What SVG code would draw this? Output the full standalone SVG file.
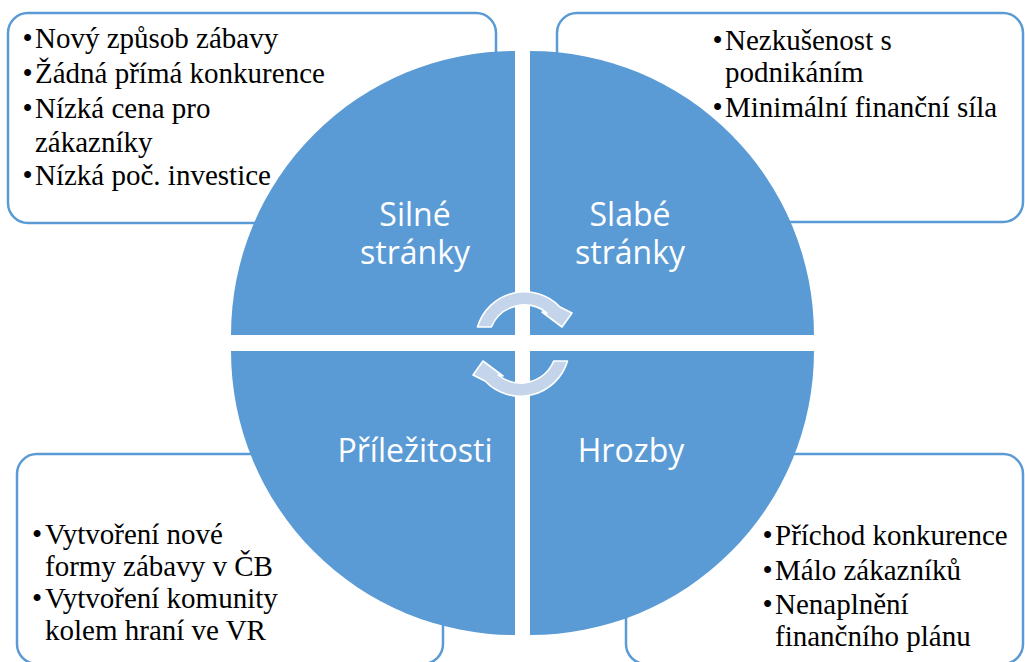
<svg xmlns="http://www.w3.org/2000/svg" xmlns:xlink="http://www.w3.org/1999/xlink" width="1025" height="662" viewBox="0 0 1025 662">
  <style>
    .box { fill: #ffffff; stroke: #5b9bd5; stroke-width: 2.5; }
    .quad { fill: #5b9bd5; }
    .item { font-family: "Liberation Serif", "Times New Roman", serif; font-size: 29px; fill: #000000; }
    .label { font-family: "Open Sans", "Noto Sans", sans-serif; font-size: 32px; fill: #ffffff; text-anchor: middle; }
    .cycle { fill: #c3d4eb; stroke: #ffffff; stroke-width: 1.6; stroke-linejoin: round; }
  </style>
  <defs>
    <!-- curved arrow: outer arc r=49, inner arc r=36, head at the clockwise end -->
    <path id="cycle-arrow" d="M 477.5 327 A 49 49 0 0 1 560 307 L 572 313 L 562 327 L 542 312 L 547 313 A 36 36 0 0 0 491.3 327 Z"/>
  </defs>
  <rect width="1025" height="662" fill="#ffffff"/>

  <!-- text panels behind the circle -->
  <g id="panel-strengths">
    <rect class="box" x="8" y="13" width="488" height="210" rx="20"/>
    <text class="item" x="22.5" y="48">•</text><text class="item" x="35" y="48">Nový způsob zábavy</text>
    <text class="item" x="22.5" y="83">•</text><text class="item" x="35" y="83">Žádná přímá konkurence</text>
    <text class="item" x="22.5" y="118">•</text><text class="item" x="35" y="118">Nízká cena pro</text>
    <text class="item" x="35" y="152">zákazníky</text>
    <text class="item" x="22.5" y="185">•</text><text class="item" x="35" y="185">Nízká poč. investice</text>
  </g>
  <g id="panel-weaknesses">
    <rect class="box" x="557" y="13" width="466" height="209" rx="20"/>
    <text class="item" x="712.5" y="50">•</text><text class="item" x="725" y="50">Nezkušenost s</text>
    <text class="item" x="725" y="82">podnikáním</text>
    <text class="item" x="712.5" y="117">•</text><text class="item" x="725" y="117">Minimální finanční síla</text>
  </g>
  <g id="panel-opportunities">
    <rect class="box" x="17" y="454" width="426" height="210" rx="20"/>
    <text class="item" x="32" y="544">•</text><text class="item" x="45" y="544">Vytvoření nové</text>
    <text class="item" x="45" y="576">formy zábavy v ČB</text>
    <text class="item" x="32" y="608">•</text><text class="item" x="45" y="608">Vytvoření komunity</text>
    <text class="item" x="45" y="640">kolem hraní ve VR</text>
  </g>
  <g id="panel-threats">
    <rect class="box" x="626" y="454" width="397" height="210" rx="20"/>
    <text class="item" x="762.5" y="545">•</text><text class="item" x="775" y="545">Příchod konkurence</text>
    <text class="item" x="762.5" y="580">•</text><text class="item" x="775" y="580">Málo zákazníků</text>
    <text class="item" x="762.5" y="614">•</text><text class="item" x="775" y="614">Nenaplnění</text>
    <text class="item" x="775" y="646">finančního plánu</text>
  </g>

  <!-- four quarter-circle segments -->
  <g id="quad-strengths">
    <path class="quad" d="M 515 335 L 231 335 A 284 284 0 0 1 515 51 Z"/>
    <text class="label" y="226"><tspan x="415">Silné</tspan><tspan x="415" dy="38">stránky</tspan></text>
  </g>
  <g id="quad-weaknesses">
    <path class="quad" d="M 530 335 L 530 51 A 284 284 0 0 1 814 335 Z"/>
    <text class="label" y="226"><tspan x="630">Slabé</tspan><tspan x="630" dy="38">stránky</tspan></text>
  </g>
  <g id="quad-opportunities">
    <path class="quad" d="M 515 351 L 515 635 A 284 284 0 0 1 231 351 Z"/>
    <text class="label" x="415" y="462">Příležitosti</text>
  </g>
  <g id="quad-threats">
    <path class="quad" d="M 530 351 L 814 351 A 284 284 0 0 1 530 635 Z"/>
    <text class="label" x="631" y="462">Hrozby</text>
  </g>

  <!-- central cycle arrows -->
  <g id="connectors">
    <use xlink:href="#cycle-arrow" class="cycle"/>
    <use xlink:href="#cycle-arrow" class="cycle" transform="rotate(180 522.5 344)"/>
  </g>
</svg>
